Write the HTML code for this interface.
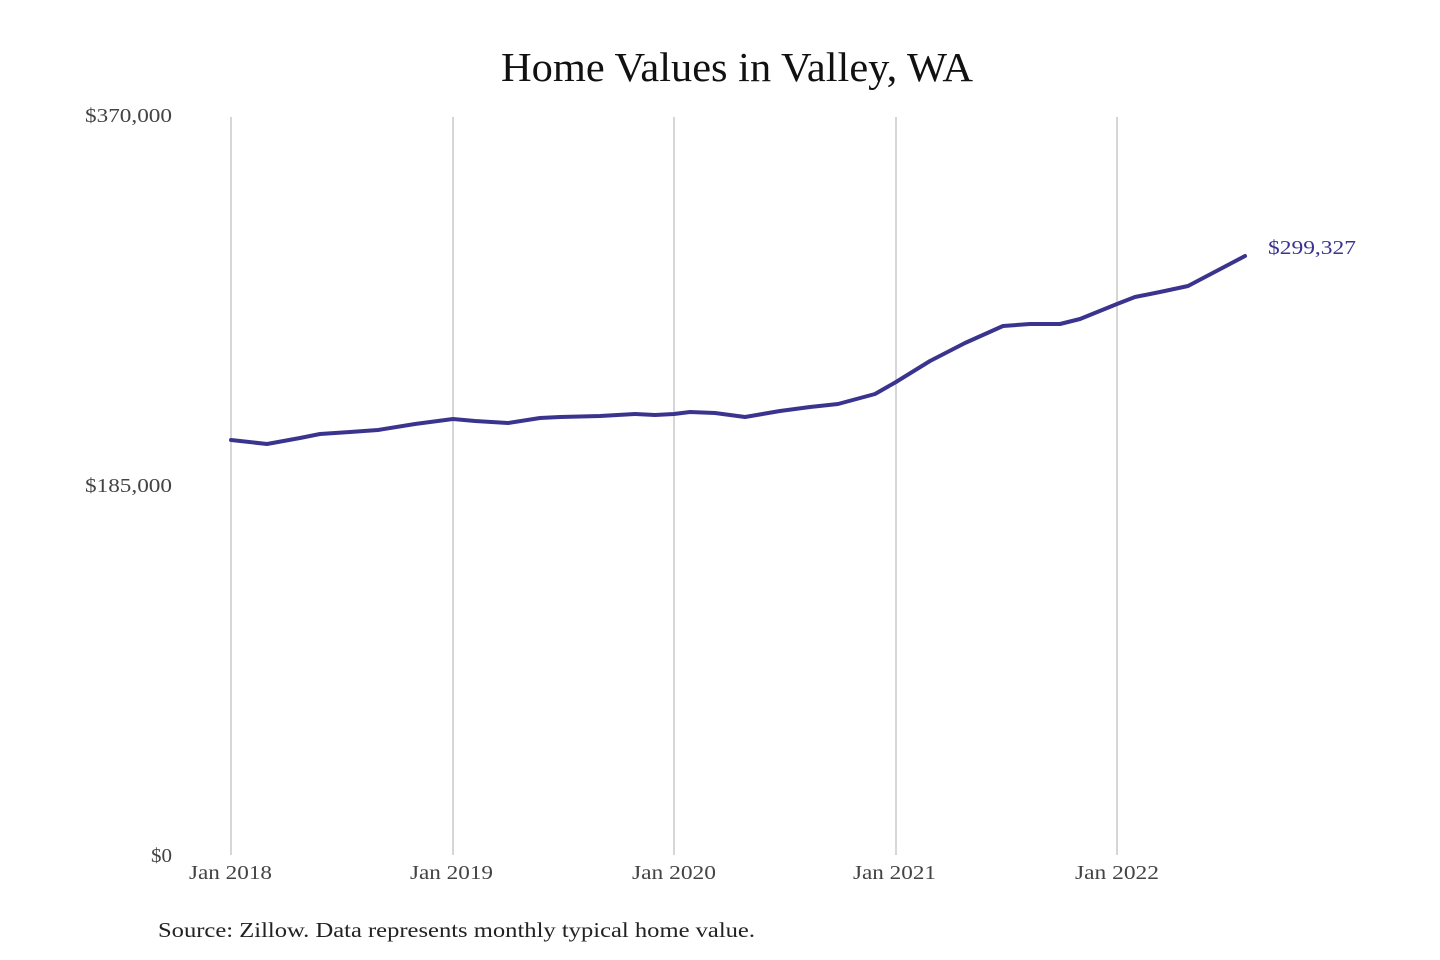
<!DOCTYPE html>
<html><head><meta charset="utf-8"><style>
html,body{margin:0;padding:0;background:#fff;}
svg{display:block;}
text{font-family:"Liberation Serif","DejaVu Serif",serif;}
</style></head><body>
<svg width="1440" height="960" viewBox="0 0 1440 960" xmlns="http://www.w3.org/2000/svg">
<rect width="1440" height="960" fill="#fff"/>
<text x="501" y="81" font-size="41" fill="#111" textLength="472" lengthAdjust="spacingAndGlyphs">Home Values in Valley, WA</text>
<g stroke="#bbb" stroke-width="1.2">
<line x1="231" y1="117" x2="231" y2="855"/>
<line x1="453" y1="117" x2="453" y2="855"/>
<line x1="674" y1="117" x2="674" y2="855"/>
<line x1="896" y1="117" x2="896" y2="855"/>
<line x1="1117" y1="117" x2="1117" y2="855"/>
</g>
<g font-size="20" fill="#444">
<text x="85" y="122" textLength="87" lengthAdjust="spacingAndGlyphs">$370,000</text>
<text x="85" y="492" textLength="87" lengthAdjust="spacingAndGlyphs">$185,000</text>
<text x="151" y="862" textLength="21" lengthAdjust="spacingAndGlyphs">$0</text>
</g>
<g font-size="20" fill="#444">
<text x="189" y="879" textLength="83" lengthAdjust="spacingAndGlyphs">Jan 2018</text>
<text x="410" y="879" textLength="83" lengthAdjust="spacingAndGlyphs">Jan 2019</text>
<text x="632" y="879" textLength="84" lengthAdjust="spacingAndGlyphs">Jan 2020</text>
<text x="853" y="879" textLength="83" lengthAdjust="spacingAndGlyphs">Jan 2021</text>
<text x="1075" y="879" textLength="84" lengthAdjust="spacingAndGlyphs">Jan 2022</text>
</g>
<polyline fill="none" stroke="#3b348f" stroke-width="4" stroke-linejoin="round" stroke-linecap="round"
points="231,440 267,444 300,438 320,434 350,432 378,430 415,424 453,419 475,421 508,423 540,418 560,417 600,416 635,414 655,415 674,414 690,412 715,413 745,417 780,411 810,407 838,404 875,394 896,382 930,361 965,343 1003,326 1030,324 1060,324 1080,319 1117,304 1135,297 1160,292 1188,286 1245,256"/>
<text x="1268" y="254" font-size="20" fill="#3b348f" textLength="88" lengthAdjust="spacingAndGlyphs">$299,327</text>
<text x="158" y="937" font-size="21" fill="#222" textLength="597" lengthAdjust="spacingAndGlyphs">Source: Zillow. Data represents monthly typical home value.</text>
</svg>
</body></html>
